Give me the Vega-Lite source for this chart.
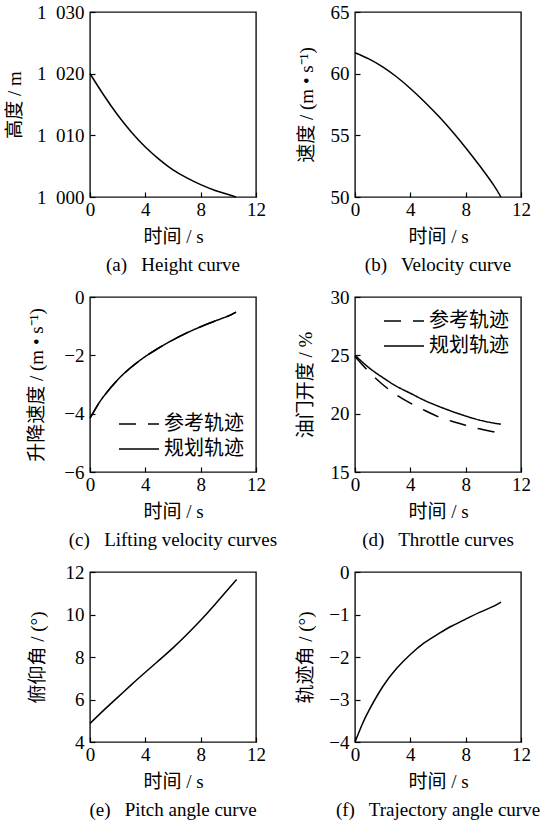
{
  "$schema": "https://vega.github.io/schema/vega-lite/v6.json",
  "background": "white",
  "padding": {"left": 4, "top": 2, "right": 0, "bottom": 0},
  "autosize": {"type": "pad"},
  "bounds": "flush",
  "columns": 2,
  "spacing": {"row": 100, "column": 99},
  "datasets": {
    "height": [
      {"t": 0, "v": 1020}, {"t": 1, "v": 1016.5}, {"t": 2, "v": 1013.3}, {"t": 3, "v": 1010.5},
      {"t": 4, "v": 1008.1}, {"t": 5, "v": 1006.1}, {"t": 6, "v": 1004.4}, {"t": 7, "v": 1003.1},
      {"t": 8, "v": 1002.0}, {"t": 9, "v": 1001.1}, {"t": 10, "v": 1000.4}, {"t": 10.55, "v": 1000.0}
    ],
    "velocity": [
      {"t": 0, "v": 61.7}, {"t": 1, "v": 61.2}, {"t": 2, "v": 60.55}, {"t": 3, "v": 59.75},
      {"t": 4, "v": 58.8}, {"t": 5, "v": 57.75}, {"t": 6, "v": 56.6}, {"t": 7, "v": 55.35},
      {"t": 8, "v": 54.0}, {"t": 9, "v": 52.55}, {"t": 10, "v": 51.0}, {"t": 10.55, "v": 50.0}
    ],
    "lifting": [
      {"t": 0, "v": -4.15, "s": "参考轨迹"}, {"t": 0.5, "v": -3.75, "s": "参考轨迹"}, {"t": 1, "v": -3.4, "s": "参考轨迹"},
      {"t": 2, "v": -2.84, "s": "参考轨迹"}, {"t": 3, "v": -2.4, "s": "参考轨迹"}, {"t": 4, "v": -2.04, "s": "参考轨迹"},
      {"t": 5, "v": -1.74, "s": "参考轨迹"}, {"t": 6, "v": -1.47, "s": "参考轨迹"}, {"t": 7, "v": -1.23, "s": "参考轨迹"},
      {"t": 8, "v": -1.02, "s": "参考轨迹"}, {"t": 9, "v": -0.83, "s": "参考轨迹"}, {"t": 10, "v": -0.65, "s": "参考轨迹"},
      {"t": 10.55, "v": -0.52, "s": "参考轨迹"},
      {"t": 0, "v": -4.15, "s": "规划轨迹"}, {"t": 0.5, "v": -3.75, "s": "规划轨迹"}, {"t": 1, "v": -3.4, "s": "规划轨迹"},
      {"t": 2, "v": -2.84, "s": "规划轨迹"}, {"t": 3, "v": -2.4, "s": "规划轨迹"}, {"t": 4, "v": -2.04, "s": "规划轨迹"},
      {"t": 5, "v": -1.74, "s": "规划轨迹"}, {"t": 6, "v": -1.47, "s": "规划轨迹"}, {"t": 7, "v": -1.23, "s": "规划轨迹"},
      {"t": 8, "v": -1.02, "s": "规划轨迹"}, {"t": 9, "v": -0.83, "s": "规划轨迹"}, {"t": 10, "v": -0.65, "s": "规划轨迹"},
      {"t": 10.55, "v": -0.52, "s": "规划轨迹"}
    ],
    "throttle": [
      {"t": 0, "v": 24.9, "s": "参考轨迹"}, {"t": 1, "v": 23.6, "s": "参考轨迹"}, {"t": 2, "v": 22.5, "s": "参考轨迹"},
      {"t": 3, "v": 21.6, "s": "参考轨迹"}, {"t": 4, "v": 20.9, "s": "参考轨迹"}, {"t": 5, "v": 20.3, "s": "参考轨迹"},
      {"t": 6, "v": 19.75, "s": "参考轨迹"}, {"t": 7, "v": 19.35, "s": "参考轨迹"}, {"t": 8, "v": 19.0, "s": "参考轨迹"},
      {"t": 9, "v": 18.7, "s": "参考轨迹"}, {"t": 10, "v": 18.45, "s": "参考轨迹"}, {"t": 10.55, "v": 18.3, "s": "参考轨迹"},
      {"t": 0, "v": 25.0, "s": "规划轨迹"}, {"t": 1, "v": 23.95, "s": "规划轨迹"}, {"t": 2, "v": 23.1, "s": "规划轨迹"},
      {"t": 3, "v": 22.35, "s": "规划轨迹"}, {"t": 4, "v": 21.75, "s": "规划轨迹"}, {"t": 5, "v": 21.15, "s": "规划轨迹"},
      {"t": 6, "v": 20.65, "s": "规划轨迹"}, {"t": 7, "v": 20.2, "s": "规划轨迹"}, {"t": 8, "v": 19.8, "s": "规划轨迹"},
      {"t": 9, "v": 19.45, "s": "规划轨迹"}, {"t": 10, "v": 19.2, "s": "规划轨迹"}, {"t": 10.55, "v": 19.1, "s": "规划轨迹"}
    ],
    "pitch": [
      {"t": 0, "v": 4.87}, {"t": 1, "v": 5.5}, {"t": 2, "v": 6.1}, {"t": 3, "v": 6.7},
      {"t": 4, "v": 7.28}, {"t": 5, "v": 7.85}, {"t": 6, "v": 8.43}, {"t": 7, "v": 9.06},
      {"t": 8, "v": 9.73}, {"t": 9, "v": 10.45}, {"t": 10, "v": 11.2}, {"t": 10.6, "v": 11.65}
    ],
    "trajectory": [
      {"t": 0, "v": -4.0}, {"t": 0.5, "v": -3.6}, {"t": 1, "v": -3.26}, {"t": 2, "v": -2.7},
      {"t": 3, "v": -2.27}, {"t": 4, "v": -1.94}, {"t": 5, "v": -1.67}, {"t": 6, "v": -1.46},
      {"t": 7, "v": -1.27}, {"t": 8, "v": -1.11}, {"t": 9, "v": -0.95}, {"t": 10, "v": -0.81},
      {"t": 10.55, "v": -0.71}
    ]
  },
  "concat": [
    {
      "width": 166, "height": 185,
      "data": {"name": "height"},
      "title": {"text": "(a)\u00a0\u00a0 Height curve", "orient": "bottom", "offset": 10, "frame": "group"},
      "mark": {"type": "line", "color": "black", "strokeWidth": 1.5, "interpolate": "natural"},
      "encoding": {
        "x": {"field": "t", "type": "quantitative", "scale": {"domain": [0, 12], "nice": false}, "axis": {"values": [0, 4, 8, 12], "title": "时间 / s"}},
        "y": {"field": "v", "type": "quantitative", "scale": {"domain": [1000, 1030], "nice": false, "zero": false},
              "axis": {"values": [1000, 1010, 1020, 1030], "title": "高度 / m", "titleX": -75.7,
                       "labelExpr": "replace(format(datum.value, ','), ',', '\u00a0\u00a0')"}}
      }
    },
    {
      "width": 166, "height": 185,
      "data": {"name": "velocity"},
      "title": {"text": "(b)\u00a0\u00a0 Velocity curve", "orient": "bottom", "offset": 10, "frame": "group"},
      "mark": {"type": "line", "color": "black", "strokeWidth": 1.5, "interpolate": "natural"},
      "encoding": {
        "x": {"field": "t", "type": "quantitative", "scale": {"domain": [0, 12], "nice": false}, "axis": {"values": [0, 4, 8, 12], "title": "时间 / s"}},
        "y": {"field": "v", "type": "quantitative", "scale": {"domain": [50, 65], "nice": false, "zero": false},
              "axis": {"values": [50, 55, 60, 65], "title": "速度 / (m • s⁻¹)", "titleX": -49}}
      }
    },
    {
      "width": 166, "height": 175,
      "data": {"name": "lifting"},
      "title": {"text": "(c)\u00a0\u00a0 Lifting velocity curves", "orient": "bottom", "offset": 10, "frame": "group"},
      "mark": {"type": "line", "color": "black", "strokeWidth": 1.5, "interpolate": "natural"},
      "encoding": {
        "x": {"field": "t", "type": "quantitative", "scale": {"domain": [0, 12], "nice": false}, "axis": {"values": [0, 4, 8, 12], "title": "时间 / s"}},
        "y": {"field": "v", "type": "quantitative", "scale": {"domain": [-6, 0], "nice": false, "zero": false},
              "axis": {"values": [-6, -4, -2, 0], "title": "升降速度 / (m • s⁻¹)", "titleX": -53.3}},
        "strokeDash": {"field": "s", "type": "nominal",
                       "scale": {"domain": ["参考轨迹", "规划轨迹"], "range": [[17, 12], [1, 0]]},
                       "legend": {"title": null, "orient": "none", "legendX": 28, "legendY": 114.5}}
      }
    },
    {
      "width": 166, "height": 175,
      "data": {"name": "throttle"},
      "title": {"text": "(d)\u00a0\u00a0 Throttle curves", "orient": "bottom", "offset": 10, "frame": "group"},
      "mark": {"type": "line", "color": "black", "strokeWidth": 1.5, "interpolate": "natural"},
      "encoding": {
        "x": {"field": "t", "type": "quantitative", "scale": {"domain": [0, 12], "nice": false}, "axis": {"values": [0, 4, 8, 12], "title": "时间 / s"}},
        "y": {"field": "v", "type": "quantitative", "scale": {"domain": [15, 30], "nice": false, "zero": false},
              "axis": {"values": [15, 20, 25, 30], "title": "油门开度 / %", "titleX": -49.8}},
        "strokeDash": {"field": "s", "type": "nominal",
                       "scale": {"domain": ["参考轨迹", "规划轨迹"], "range": [[17, 12], [1, 0]]},
                       "legend": {"title": null, "orient": "none", "legendX": 28, "legendY": 11.5}}
      }
    },
    {
      "width": 166, "height": 170,
      "data": {"name": "pitch"},
      "title": {"text": "(e)\u00a0\u00a0 Pitch angle curve", "orient": "bottom", "offset": 10, "frame": "group"},
      "mark": {"type": "line", "color": "black", "strokeWidth": 1.5, "interpolate": "natural"},
      "encoding": {
        "x": {"field": "t", "type": "quantitative", "scale": {"domain": [0, 12], "nice": false}, "axis": {"values": [0, 4, 8, 12], "title": "时间 / s"}},
        "y": {"field": "v", "type": "quantitative", "scale": {"domain": [4, 12], "nice": false, "zero": false},
              "axis": {"values": [4, 6, 8, 10, 12], "title": "俯仰角 / (°)", "titleX": -52.3}}
      }
    },
    {
      "width": 166, "height": 170,
      "data": {"name": "trajectory"},
      "title": {"text": "(f)\u00a0\u00a0 Trajectory angle curve", "orient": "bottom", "offset": 10, "frame": "group"},
      "mark": {"type": "line", "color": "black", "strokeWidth": 1.5, "interpolate": "natural"},
      "encoding": {
        "x": {"field": "t", "type": "quantitative", "scale": {"domain": [0, 12], "nice": false}, "axis": {"values": [0, 4, 8, 12], "title": "时间 / s"}},
        "y": {"field": "v", "type": "quantitative", "scale": {"domain": [-4, 0], "nice": false, "zero": false},
              "axis": {"values": [-4, -3, -2, -1, 0], "title": "轨迹角 / (°)", "titleX": -50}}
      }
    }
  ],
  "resolve": {"scale": {"strokeDash": "independent"}, "legend": {"strokeDash": "independent"}},
  "config": {
    "font": "Liberation Serif",
    "view": {"stroke": "#111111", "strokeWidth": 1.4},
    "axis": {
      "labelFont": "Liberation Serif", "labelFontSize": 19, "labelColor": "black",
      "titleFont": "Liberation Serif, Noto Sans CJK SC", "titleFontSize": 19, "titleFontWeight": "normal", "titleColor": "black",
      "tickColor": "black", "tickSize": -5, "tickWidth": 1.2,
      "domain": false, "grid": false, "labelOverlap": false, "labelFlush": false
    },
    "axisX": {"labelPadding": 8, "titleY": 39, "titleBaseline": "middle"},
    "axisY": {"labelPadding": 11, "titleBaseline": "middle"},
    "title": {"font": "Liberation Serif", "fontSize": 19, "fontWeight": "normal", "color": "black"},
    "legend": {
      "symbolType": "stroke", "symbolSize": 1600, "symbolStrokeWidth": 1.5, "symbolStrokeColor": "black",
      "labelFont": "Noto Sans CJK SC", "labelFontSize": 20, "labelColor": "black",
      "clipHeight": 25, "rowPadding": 0, "labelOffset": 4, "padding": 0, "symbolOffset": 0
    }
  }
}
